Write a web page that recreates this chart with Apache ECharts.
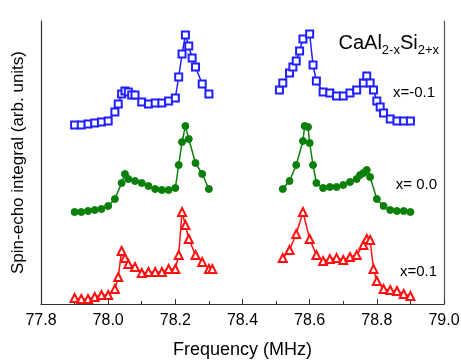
<!DOCTYPE html>
<html lang="en">
  <head>
    <meta charset="UTF-8" />
    <title>Spin-echo spectra</title>
    <script src="https://cdn.jsdelivr.net/npm/echarts@6/dist/echarts.min.js"></script>
  </head>
  <body style="margin: 0">
    <div id="main" style="width: 461px; height: 360px"></div>
    <script type="text/javascript">
      // x = -0.1 (blue squares)
      var blueLeftF = [77.90, 77.92, 77.94, 77.96, 77.98, 78.00, 78.02, 78.03, 78.04, 78.05, 78.06, 78.07, 78.08, 78.10, 78.12, 78.14, 78.16, 78.18, 78.20, 78.21, 78.22, 78.23, 78.24, 78.25, 78.26, 78.28, 78.30];
      var blueLeftV = [179, 179, 180, 181, 182, 183, 192, 200, 210, 213, 212, 209, 209, 202, 200, 201, 201, 203, 206, 227, 250, 269, 258, 246, 237, 220, 210];
      var blueRightF = [78.51, 78.52, 78.54, 78.55, 78.56, 78.57, 78.58, 78.60, 78.61, 78.62, 78.64, 78.66, 78.68, 78.70, 78.72, 78.74, 78.76, 78.77, 78.78, 78.79, 78.80, 78.81, 78.82, 78.84, 78.86, 78.88, 78.90];
      var blueRightV = [214, 221, 231, 237, 243, 253, 265, 270, 239, 223, 212, 211, 208, 208, 211, 214, 221, 228, 221, 214, 203, 197, 191, 185, 183, 183, 183];

      // x = 0.0 (green circles)
      var greenLeftF = [77.90, 77.92, 77.94, 77.96, 77.98, 78.00, 78.02, 78.04, 78.05, 78.06, 78.08, 78.10, 78.12, 78.14, 78.16, 78.18, 78.20, 78.21, 78.22, 78.23, 78.24, 78.26, 78.28, 78.30];
      var greenLeftV = [92, 92, 93, 94, 95, 98, 105, 121, 130, 125, 123, 121, 118, 115, 114, 114, 116, 139, 162, 178, 165, 141, 130, 115];
      var greenRightF = [78.52, 78.54, 78.56, 78.58, 78.585, 78.595, 78.60, 78.61, 78.62, 78.64, 78.66, 78.68, 78.70, 78.72, 78.74, 78.75, 78.76, 78.77, 78.78, 78.80, 78.82, 78.84, 78.86, 78.88, 78.90];
      var greenRightV = [115, 123, 139, 163, 178, 177, 161, 139, 121, 116, 117, 117, 119, 122, 125, 129, 131, 134, 127, 105, 98, 94, 93, 93, 92];

      // x = 0.1 (red triangles)
      var redLeftF = [77.90, 77.92, 77.94, 77.96, 77.98, 78.00, 78.02, 78.03, 78.04, 78.05, 78.06, 78.08, 78.10, 78.12, 78.14, 78.16, 78.18, 78.20, 78.21, 78.22, 78.23, 78.24, 78.26, 78.28, 78.30, 78.31];
      var redLeftV = [6, 5, 5, 7, 9, 9, 15, 27, 53, 46, 40, 37, 31, 32, 32, 32, 35, 35, 49, 92, 79, 65, 49, 42, 35, 35];
      var redRightF = [78.52, 78.54, 78.56, 78.58, 78.60, 78.62, 78.64, 78.66, 78.68, 78.70, 78.72, 78.74, 78.76, 78.77, 78.78, 78.79, 78.80, 78.82, 78.84, 78.86, 78.88, 78.90];
      var redRightV = [46, 54, 70, 92, 65, 49, 43, 45, 46, 44, 47, 49, 59, 65, 64, 35, 23, 15, 14, 13, 10, 8];

      var sampleLabels = ["x=-0.1", "x= 0.0", "x=0.1"];
      var xTicks = { min: 77.8, max: 79.0, step: 0.2 };

      function pairs(f, v) {
        return f.map(function (x, i) {
          return [x, v[i]];
        });
      }

      var font = "Liberation Sans, Arial, sans-serif";

      function lineSeries(data, color, symbol, size) {
        return {
          type: "line",
          data: data,
          symbol: symbol,
          symbolSize: size,
          showSymbol: true,
          animation: false,
          lineStyle: { color: color, width: 1.5 },
          itemStyle: { color: color, borderColor: color, borderWidth: 1 },
          z: 3,
        };
      }

      var myChart = echarts.init(document.getElementById("main"));

      var option = {
        backgroundColor: "#fff",
        animation: false,
        grid: { left: 41, right: 17, top: 21, bottom: 56, outerBoundsMode: "none", containLabel: false },
        xAxis: {
          type: "value",
          min: xTicks.min,
          max: xTicks.max,
          interval: xTicks.step,
          name: "Frequency (MHz)",
          nameLocation: "middle",
          nameGap: 37,
          nameTextStyle: { fontFamily: font, fontSize: 18, color: "#000" },
          axisLine: { lineStyle: { color: "#333", width: 1.2 } },
          axisTick: { inside: true, length: 5, lineStyle: { color: "#333" } },
          minorTick: { show: true, splitNumber: 2, length: 3, lineStyle: { color: "#333" } },
          splitLine: { show: false },
          axisLabel: {
            fontFamily: font,
            fontSize: 16,
            color: "#000",
            margin: 9,
            formatter: function (v) {
              return v.toFixed(1);
            },
          },
        },
        yAxis: [
          {
            type: "value",
            min: 0,
            max: 283,
            name: "Spin-echo integral (arb. units)",
            nameLocation: "middle",
            nameGap: 14,
            nameTextStyle: { fontFamily: font, fontSize: 17, color: "#000" },
            axisLine: { show: true, lineStyle: { color: "#333", width: 1.2 } },
            axisTick: { show: false },
            axisLabel: { show: false },
            splitLine: { show: false },
          },
          {
            type: "value",
            position: "right",
            min: 0,
            max: 283,
            axisLine: { show: true, lineStyle: { color: "#555", width: 1.2 } },
            axisTick: { show: false },
            axisLabel: { show: false },
            splitLine: { show: false },
          },
        ],
        graphic: [
          {
            type: "text",
            right: 22,
            top: 30,
            style: {
              text: "{a|CaAl}{b|2-x}{a|Si}{b|2+x}",
              fontFamily: font,
              rich: {
                a: { fontFamily: font, fontSize: 20, fill: "#000", lineHeight: 24 },
                b: { fontFamily: font, fontSize: 13, fill: "#000", lineHeight: 24, padding: [14, 0, 0, 0] },
              },
            },
          },
          {
            type: "text",
            right: 26,
            top: 85,
            style: { text: sampleLabels[0], fontFamily: font, fontSize: 15, fill: "#000" },
          },
          {
            type: "text",
            right: 24,
            top: 177,
            style: { text: sampleLabels[1], fontFamily: font, fontSize: 15, fill: "#000" },
          },
          {
            type: "text",
            right: 24,
            top: 264,
            style: { text: sampleLabels[2], fontFamily: font, fontSize: 15, fill: "#000" },
          },
        ],
        series: [
          lineSeries(pairs(blueLeftF, blueLeftV), "#1f1fff", "emptyRect", 7),
          lineSeries(pairs(blueRightF, blueRightV), "#1f1fff", "emptyRect", 7),
          lineSeries(pairs(greenLeftF, greenLeftV), "#0a800a", "circle", 7),
          lineSeries(pairs(greenRightF, greenRightV), "#0a800a", "circle", 7),
          lineSeries(pairs(redLeftF, redLeftV), "#ff1010", "emptyTriangle", 8),
          lineSeries(pairs(redRightF, redRightV), "#ff1010", "emptyTriangle", 8),
        ],
      };
      myChart.setOption(option);
    </script>
  </body>
</html>
